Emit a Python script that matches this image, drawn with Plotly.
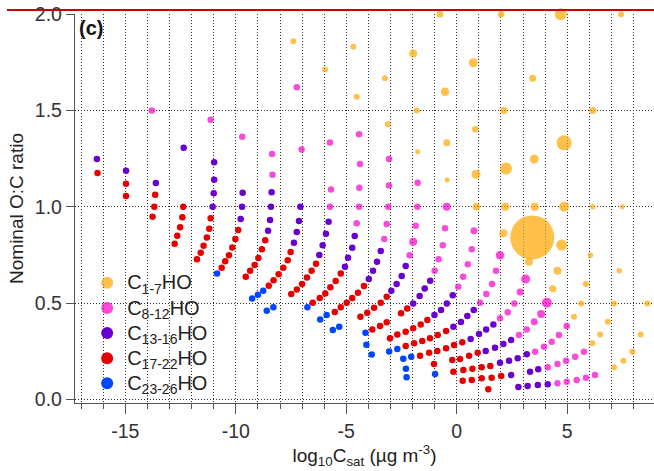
import plotly.graph_objects as go

# ---------------------------------------------------------------
# Volatility (log10 Csat) vs nominal O:C for CHO species,
# grouped by carbon number.
# ---------------------------------------------------------------

# C1-7 HO
c1_7_x = [7.44, 4.71, 2.01, -0.76, -4.68, -1.97, 0.75, -5.96, -3.25, 3.44,
          -0.53, -4.53, -1.81, 2.14, 6.16, -3.12, 0.84, 4.86, -0.45, -1.77,
          3.51, 2.23, 0.87, -0.43, 0.89, 2.20, 3.53, 4.86, 6.16, 7.50,
          2.11, 3.42, 4.75, 6.05, 3.27, 4.56, 7.36, 4.35, 5.85, 5.63,
          7.12, 8.63, 5.31, 6.84, 6.49, 8.33, 6.14, 7.95, 7.54, 7.12,
          -7.40]
c1_7_y = [2.000, 2.000, 2.000, 2.000, 1.831, 1.796, 1.748, 1.713, 1.667, 1.667,
          1.597, 1.571, 1.500, 1.500, 1.500, 1.428, 1.402, 1.332, 1.332, 1.286,
          1.248, 1.199, 1.168, 1.140, 1.000, 1.000, 1.000, 1.000, 1.000, 1.000,
          0.862, 0.841, 0.801, 0.748, 0.714, 0.668, 0.668, 0.574, 0.599, 0.498,
          0.498, 0.498, 0.429, 0.403, 0.337, 0.337, 0.291, 0.247, 0.200, 0.166,
          1.859]

# C8-12 HO
c8_12_x = [-13.80, -11.14, -9.71, -8.36, -8.34, -7.24, -7.02,
           -5.74, -5.69, -5.74,
           -4.42, -4.38, -4.41, -4.42, -4.53,
           -3.07, -3.07, -3.10, -3.17, -3.28,
           -1.77, -1.78, -1.86, -1.97, -2.13,
           -0.45, -0.53, -0.63, -0.82, -1.00,
           0.78, 0.68, 0.50, 0.29, 0.07,
           1.96, 1.78, 1.60, 1.34, 1.06,
           3.12, 2.87, 2.61, 2.31, 1.96,
           4.08, 3.82, 3.51, 3.17, 2.82,
           4.98, 4.63, 4.30, 3.95, 3.55,
           5.76, 5.36, 4.95, 4.56, 4.12,
           6.26, 5.85, 5.43, 4.98, 4.56]
c8_12_y = [1.500, 1.452, 1.363, 1.274, 1.166, 1.621, 1.298,
           1.334, 1.090, 1.000,
           1.376, 1.222, 1.099, 1.000, 0.914,
           1.248, 1.111, 1.000, 0.910, 0.832,
           1.125, 1.000, 0.901, 0.818, 0.748,
           1.000, 0.888, 0.800, 0.727, 0.668,
           0.875, 0.779, 0.701, 0.637, 0.585,
           0.748, 0.668, 0.599, 0.547, 0.502,
           0.625, 0.557, 0.498, 0.452, 0.421,
           0.502, 0.443, 0.403, 0.363, 0.334,
           0.381, 0.334, 0.299, 0.273, 0.247,
           0.247, 0.221, 0.200, 0.183, 0.166,
           0.126, 0.112, 0.100, 0.091, 0.083]

# C13-16 HO
c13_16_x = [-16.29, -14.97, -13.62, -12.36,
            -10.98, -10.98, -11.00, -11.05,
            -9.69, -9.72, -9.78,
            -8.38, -8.41, -8.45, -8.54,
            -7.08, -7.14, -7.24, -7.37,
            -5.80, -5.92, -6.07, -6.22,
            -4.62, -4.73, -4.92, -5.06,
            -3.44, -3.61, -3.79, -3.98,
            -2.31, -2.49, -2.72, -2.96,
            -1.20, -1.45, -1.68, -1.97,
            -0.18, -0.45, -0.71, -1.01,
            0.77, 0.48, 0.19, -0.15,
            1.66, 1.33, 1.01, 0.63,
            2.46, 2.11, 1.73, 1.31,
            3.17, 2.76, 2.37, 1.96,
            3.69, 3.32, 2.46,
            4.12, 3.67, 3.21, 2.79]
c13_16_y = [1.248, 1.187, 1.123, 1.306,
            1.231, 1.140, 1.070, 1.000,
            1.073, 1.000, 0.936,
            1.076, 1.000, 0.931, 0.875,
            1.000, 0.926, 0.869, 0.813,
            0.922, 0.860, 0.800, 0.749,
            0.848, 0.787, 0.735, 0.688,
            0.770, 0.714, 0.668, 0.625,
            0.692, 0.640, 0.599, 0.564,
            0.616, 0.576, 0.536, 0.498,
            0.540, 0.498, 0.464, 0.438,
            0.464, 0.433, 0.401, 0.377,
            0.389, 0.363, 0.339, 0.313,
            0.308, 0.287, 0.268, 0.251,
            0.234, 0.213, 0.200, 0.190,
            0.156, 0.143, 0.126,
            0.078, 0.074, 0.069, 0.064]

# C17-22 HO
c17_22_x = [-16.26, -14.97, -14.97, -13.65, -13.69, -13.77,
            -12.38, -12.42, -12.52, -12.65, -12.77,
            -11.14, -11.20, -11.31, -11.46, -11.59, -11.76,
            -9.89, -10.02, -10.16, -10.31, -10.48, -10.64,
            -8.67, -8.82, -8.98, -9.15, -9.35, -9.55,
            -7.52, -7.65, -7.85, -8.06, -8.29, -8.51,
            -6.37, -6.57, -6.78, -7.00, -7.24, -7.49,
            -5.25, -5.48, -5.72, -5.95, -6.20, -6.52,
            -4.20, -4.47, -4.73, -4.98, -5.25, -5.52,
            -3.17, -3.44, -3.74, -4.05, -4.36,
            -2.24, -2.52, -3.17, -3.47, -3.82,
            -1.33, -1.63, -1.97, -2.31, -2.69, -3.02,
            -0.48, -0.86, -1.21, -1.56, -1.93, -2.31,
            0.25, -0.12, -0.48, -0.88, -1.25, -1.66,
            0.95, 0.56, 0.15, -0.20, -1.03,
            1.52, 1.13, 0.71, 0.30, -0.15,
            2.01, 1.58, 1.13, 0.68, 0.27,
            1.43]
c17_22_y = [1.175, 1.119, 1.056, 1.062, 1.000, 0.948,
            1.000, 0.945, 0.893, 0.849, 0.808,
            0.940, 0.886, 0.841, 0.798, 0.761, 0.727,
            0.879, 0.832, 0.789, 0.748, 0.717, 0.683,
            0.826, 0.779, 0.734, 0.697, 0.668, 0.637,
            0.765, 0.722, 0.683, 0.649, 0.618, 0.590,
            0.704, 0.668, 0.633, 0.599, 0.571, 0.547,
            0.654, 0.614, 0.582, 0.550, 0.526, 0.502,
            0.588, 0.553, 0.526, 0.502, 0.478, 0.453,
            0.533, 0.502, 0.476, 0.450, 0.429,
            0.472, 0.447, 0.400, 0.381, 0.363,
            0.412, 0.389, 0.369, 0.351, 0.337, 0.317,
            0.355, 0.334, 0.317, 0.303, 0.291, 0.277,
            0.296, 0.282, 0.265, 0.251, 0.242, 0.226,
            0.242, 0.226, 0.209, 0.204, 0.183,
            0.173, 0.166, 0.159, 0.152, 0.143,
            0.121, 0.112, 0.109, 0.100, 0.097,
            0.053]

# C23-26 HO
c23_26_x = [-10.85, -8.76, -9.00, -9.26, -8.30, -8.60, -6.76, -5.89, -6.18,
            -5.32, -5.61, -4.13, -4.09, -3.85, -3.06, -2.69, -2.42, -2.06,
            -2.30, -2.27, -0.98]
c23_26_y = [0.654, 0.564, 0.543, 0.523, 0.478, 0.460, 0.478, 0.438, 0.415,
            0.377, 0.360, 0.346, 0.284, 0.233, 0.249, 0.262, 0.211, 0.221,
            0.159, 0.115, 0.132]

group_labels = ["C<sub>1-7</sub>HO", "C<sub>8-12</sub>HO", "C<sub>13-16</sub>HO",
                "C<sub>17-22</sub>HO", "C<sub>23-26</sub>HO"]

x_tick_values = [-15, -10, -5, 0, 5]
x_tick_labels = ["-15", "-10", "-5", "0", "5"]
y_tick_values = [0.0, 0.5, 1.0, 1.5, 2.0]
y_tick_labels = ["0.0", "0.5", "1.0", "1.5", "2.0"]

# ---------------------------------------------------------------
# styling
# ---------------------------------------------------------------
FONT = "Arial, Liberation Sans, sans-serif"
AXIS_GREY = "#555555"
GRID = dict(showgrid=True, gridcolor="#2e2e2e", gridwidth=1, griddash="1px,2px")

DOT = 6.5
# marker diameters for the C1-7 group (larger dots = stronger signal)
c1_7_size = [6, 12, 6.5, 6.5, 6, 8, 9, 6, 6, 7,
             8.5, 6, 6, 7, 7, 6, 6.5, 15, 7, 5,
             9, 12, 9, 5, 7.5, 8, 8, 10, 5.5, 5,
             8, 44, 11, 5.5, 8, 8, 5.5, 7, 6, 6,
             6, 6, 6, 6, 6, 6, 6, 6, 6, 6,
             6]
c8_12_size = [DOT] * len(c8_12_x)
big_magenta = {25: 8, 23: 8, 35: 8.5, 40: 9, 41: 7, 45: 10, 46: 8, 47: 7, 30: 7}
for i, s in big_magenta.items():
    c8_12_size[i] = s

series = [
    (c1_7_x, c1_7_y, c1_7_size, "#FFA500"),
    (c8_12_x, c8_12_y, c8_12_size, "#F500C8"),
    (c13_16_x, c13_16_y, DOT, "#6A00D0"),
    (c17_22_x, c17_22_y, DOT, "#E80000"),
    (c23_26_x, c23_26_y, DOT, "#0046FF"),
]

fig = go.Figure()
for label, (xs, ys, size, color) in zip(group_labels, series):
    fig.add_trace(go.Scatter(
        x=xs, y=ys, mode="markers",
        # larger label text inside a legend row sized for 17 px
        name=f'<span style="font-size:20px">{label}</span>',
        marker=dict(size=size, color=color, line=dict(width=0)),
        cliponaxis=False,
    ))

fig.update_layout(
    width=654, height=471,
    margin=dict(l=75, r=0, t=14, b=68),
    paper_bgcolor="white", plot_bgcolor="white",
    font=dict(family=FONT, color="#222"),
    showlegend=True,
    legend=dict(
        x=0.021, y=0.354, xanchor="left", yanchor="top",
        bgcolor="rgba(0,0,0,0)", borderwidth=0,
        font=dict(family=FONT, size=17, color="#222"),
        itemsizing="constant", tracegroupgap=0,
    ),
    xaxis=dict(
        range=[-17.28, 8.93],
        tickmode="array", tickvals=x_tick_values, ticktext=x_tick_labels,
        ticks="outside", ticklen=10, tickwidth=1, tickcolor=AXIS_GREY,
        showline=True, linecolor=AXIS_GREY, linewidth=1.3,
        zeroline=False,
        tickfont=dict(family=FONT, size=19.5, color="#333"),
        minor=dict(tickmode="linear", tick0=0, dtick=1, ticks="outside",
                   ticklen=5, tickwidth=1, tickcolor=AXIS_GREY, **GRID),
        title=dict(text="log<sub>10</sub>C<sub>sat</sub> (µg m<sup>-3</sup>)",
                   font=dict(family=FONT, size=19, color="#222"), standoff=8),
        **GRID,
    ),
    yaxis=dict(
        range=[-0.019, 2.001],
        tickmode="array", tickvals=y_tick_values, ticktext=y_tick_labels,
        ticks="outside", ticklen=8, tickwidth=1, tickcolor=AXIS_GREY,
        showline=True, linecolor=AXIS_GREY, linewidth=1.3,
        zeroline=False,
        tickfont=dict(family=FONT, size=19.5, color="#333"),
        title=dict(text="Nominal O:C ratio",
                   font=dict(family=FONT, size=19, color="#222"), standoff=6),
        **GRID,
    ),
    shapes=[
        # opaque panel behind the legend
        dict(type="rect", xref="paper", yref="paper",
             x0=0.0138, x1=0.2297, y0=0.018, y1=0.36,
             fillcolor="white", line=dict(width=0), layer="between"),
        # red rule across the top
        dict(type="line", xref="paper", yref="paper",
             x0=-0.1174, x1=1.0, y0=1.0103, y1=1.0103,
             line=dict(color="#CC0000", width=2.2), layer="above"),
    ],
    annotations=[
        dict(text="<b>(c)</b>", xref="paper", yref="paper",
             x=0.003, y=0.997, xanchor="left", yanchor="top",
             showarrow=False, font=dict(family=FONT, size=20, color="#111")),
    ],
)

fig.write_html("out.html")
